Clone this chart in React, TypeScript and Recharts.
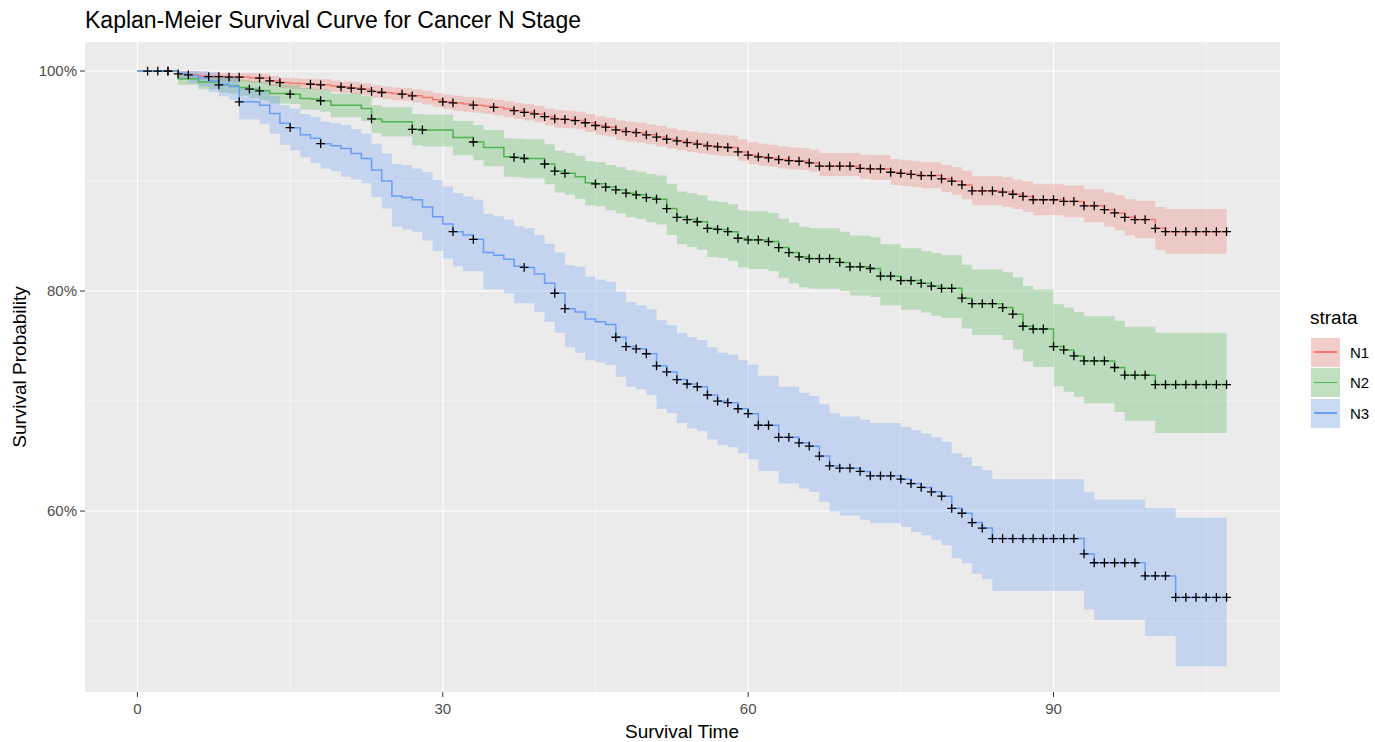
import React from "react";
import { ComposedChart, Area, Line, Scatter, XAxis, YAxis, CartesianGrid } from "recharts";

// Kaplan-Meier estimates in percent, one value per month (index = month 0..107)
const n1Surv = [
  100, 100, 100, 100, 99.75, 99.65, 99.55, 99.5, 99.5, 99.45,
  99.45, 99.4, 99.35, 99.1, 98.95, 98.9, 98.85, 98.8, 98.75, 98.65,
  98.55, 98.45, 98.35, 98.15, 98.05, 97.95, 97.9, 97.75, 97.6, 97.4,
  97.2, 97.1, 97.0, 96.9, 96.8, 96.7, 96.55, 96.4, 96.25, 96.1,
  95.85, 95.65, 95.6, 95.5, 95.3, 95.05, 94.9, 94.65, 94.5, 94.4,
  94.2, 94.0, 93.8, 93.65, 93.5, 93.35, 93.2, 93.1, 93.05, 92.65,
  92.35, 92.2, 92.1, 91.95, 91.85, 91.8, 91.65, 91.35, 91.35, 91.35,
  91.35, 91.15, 91.1, 91.1, 90.8, 90.7, 90.6, 90.5, 90.5, 90.2,
  90.0, 89.65, 89.1, 89.1, 89.1, 89.0, 88.8, 88.6, 88.3, 88.3,
  88.3, 88.15, 88.15, 87.75, 87.75, 87.4, 87.1, 86.7, 86.5, 86.5,
  85.7, 85.4, 85.4, 85.4, 85.4, 85.4, 85.4, 85.4,
];
const n1Lower = [
  100, 100, 100, 100, 99.45, 99.3, 99.2, 99.1, 99.1, 99.05,
  99.05, 98.95, 98.9, 98.65, 98.45, 98.4, 98.35, 98.3, 98.25, 98.1,
  98.0, 97.9, 97.8, 97.55, 97.45, 97.35, 97.3, 97.15, 96.95, 96.75,
  96.55, 96.4, 96.3, 96.2, 96.1, 95.95, 95.8, 95.65, 95.5, 95.35,
  95.05, 94.85, 94.8, 94.7, 94.45, 94.2, 94.05, 93.75, 93.6, 93.5,
  93.35, 93.15, 92.95, 92.8, 92.65, 92.5, 92.4, 92.3, 92.25, 91.85,
  91.55, 91.4, 91.3, 91.15, 91.05, 91.0, 90.85, 90.45, 90.45, 90.45,
  90.45, 90.2, 90.1, 90.1, 89.65, 89.55, 89.45, 89.35, 89.35, 89.0,
  88.75, 88.35, 87.8, 87.8, 87.8, 87.65, 87.45, 87.2, 86.9, 86.9,
  86.9, 86.7, 86.7, 86.25, 86.25, 85.85, 85.5, 85.05, 84.8, 84.8,
  83.75, 83.4, 83.4, 83.4, 83.4, 83.4, 83.4, 83.4,
];
const n1Upper = [
  100, 100, 100, 100, 100, 100, 99.9, 99.85, 99.85, 99.8,
  99.8, 99.8, 99.75, 99.55, 99.4, 99.35, 99.3, 99.3, 99.25, 99.15,
  99.05, 99.0, 98.9, 98.7, 98.6, 98.5, 98.45, 98.35, 98.2, 98.0,
  97.85, 97.75, 97.65, 97.6, 97.5, 97.4, 97.25, 97.1, 97.0, 96.85,
  96.6, 96.45, 96.4, 96.3, 96.1, 95.9, 95.75, 95.5, 95.4, 95.3,
  95.15, 95.0, 94.8, 94.65, 94.5, 94.4, 94.3, 94.2, 94.15, 93.8,
  93.55, 93.4, 93.3, 93.15, 93.05, 93.0, 92.85, 92.55, 92.55, 92.55,
  92.55, 92.4, 92.35, 92.35, 92.0, 91.9, 91.8, 91.7, 91.7, 91.45,
  91.25, 90.95, 90.45, 90.45, 90.45, 90.35, 90.15, 90.0, 89.7, 89.7,
  89.7, 89.6, 89.6, 89.25, 89.25, 88.95, 88.7, 88.35, 88.2, 88.2,
  87.65, 87.45, 87.45, 87.45, 87.45, 87.45, 87.45, 87.45,
];

const n2Surv = [
  100, 100, 100, 100, 99.3, 99.3, 99.0, 99.0, 98.75, 98.65,
  98.5, 98.35, 98.2, 97.95, 97.95, 97.9, 97.5, 97.45, 97.3, 96.9,
  96.9, 96.9, 96.6, 95.65, 95.4, 95.4, 95.4, 94.7, 94.65, 94.65,
  94.65, 93.95, 93.95, 93.55, 93.05, 93.05, 92.2, 92.15, 92.05, 92.05,
  91.55, 90.9, 90.7, 90.4, 89.85, 89.75, 89.45, 89.2, 88.9, 88.75,
  88.5, 88.35, 87.5, 86.7, 86.5, 86.3, 85.7, 85.6, 85.4, 84.8,
  84.65, 84.65, 84.5, 83.95, 83.5, 83.1, 82.95, 82.95, 82.95, 82.6,
  82.2, 82.2, 82.05, 81.35, 81.35, 80.95, 80.95, 80.7, 80.45, 80.25,
  80.25, 79.35, 78.85, 78.85, 78.85, 78.5, 77.9, 76.8, 76.55, 76.55,
  74.95, 74.65, 74.1, 73.65, 73.65, 73.65, 73.05, 72.35, 72.35, 72.35,
  71.5, 71.5, 71.5, 71.5, 71.5, 71.5, 71.5, 71.5,
];
const n2Lower = [
  100, 100, 100, 100, 98.75, 98.75, 98.35, 98.35, 98.05, 97.95,
  97.75, 97.55, 97.35, 97.05, 97.05, 97.0, 96.5, 96.45, 96.3, 95.8,
  95.8, 95.8, 95.45, 94.35, 94.05, 94.05, 94.05, 93.25, 93.15, 93.15,
  93.15, 92.35, 92.35, 91.9, 91.35, 91.35, 90.4, 90.35, 90.25, 90.25,
  89.7, 88.95, 88.75, 88.4, 87.8, 87.7, 87.35, 87.05, 86.7, 86.55,
  86.25, 86.05, 85.1, 84.25, 84.0, 83.75, 83.1, 83.0, 82.75, 82.15,
  82.0, 82.0, 81.8, 81.2, 80.7, 80.35, 80.2, 80.2, 80.2, 80.0,
  79.6, 79.6, 79.45, 78.7, 78.7, 78.3, 78.3, 78.05, 77.75, 77.55,
  77.55, 76.6, 76.0, 76.0, 76.0, 75.55, 74.7, 73.6, 73.1, 73.1,
  71.35, 70.85, 70.4, 69.8, 69.8, 69.8, 69.0, 68.2, 68.2, 68.2,
  67.1, 67.1, 67.1, 67.1, 67.1, 67.1, 67.1, 67.1,
];
const n2Upper = [
  100, 100, 100, 100, 99.85, 99.85, 99.6, 99.6, 99.4, 99.35,
  99.2, 99.1, 99.0, 98.8, 98.8, 98.75, 98.45, 98.4, 98.3, 97.95,
  97.95, 97.95, 97.7, 96.9, 96.7, 96.7, 96.7, 96.1, 96.05, 96.05,
  96.05, 95.45, 95.45, 95.1, 94.65, 94.65, 93.9, 93.85, 93.8, 93.8,
  93.35, 92.75, 92.55, 92.3, 91.8, 91.7, 91.45, 91.25, 91.0, 90.85,
  90.65, 90.5, 89.75, 89.05, 88.9, 88.7, 88.2, 88.1, 87.9, 87.35,
  87.25, 87.25, 87.1, 86.6, 86.2, 85.85, 85.7, 85.7, 85.7, 85.4,
  85.05, 85.05, 84.9, 84.25, 84.25, 83.9, 83.9, 83.65, 83.45, 83.25,
  83.25, 82.4, 81.95, 81.95, 81.95, 81.7, 81.25, 80.45, 80.15, 80.15,
  78.8, 78.5, 78.1, 77.7, 77.7, 77.7, 77.3, 76.75, 76.75, 76.75,
  76.2, 76.2, 76.2, 76.2, 76.2, 76.2, 76.2, 76.2,
];

const n3Surv = [
  100, 100, 100, 100, 99.8, 99.6, 99.4, 99.1, 98.8, 98.6,
  97.2, 97.2, 96.9, 96.15, 95.25, 94.85, 94.2, 93.9, 93.4, 93.2,
  92.95, 92.5, 92.05, 91.0, 90.0, 88.65, 88.5, 88.3, 87.65, 86.75,
  86.1, 85.4, 85.1, 84.7, 83.5, 83.25, 82.9, 82.25, 82.15, 81.55,
  80.7, 79.8, 78.4, 78.1, 77.45, 77.2, 76.95, 75.8, 74.95, 74.75,
  74.3, 73.2, 72.65, 71.95, 71.55, 71.3, 70.55, 70.0, 69.85, 69.3,
  68.85, 67.8, 67.8, 66.7, 66.7, 66.2, 65.9, 65.0, 64.1, 63.9,
  63.9, 63.6, 63.2, 63.2, 63.2, 62.9, 62.5, 62.15, 61.75, 61.35,
  60.25, 59.8, 58.95, 58.45, 57.5, 57.5, 57.5, 57.5, 57.5, 57.5,
  57.5, 57.5, 57.5, 56.1, 55.3, 55.3, 55.3, 55.3, 55.3, 54.1,
  54.1, 54.1, 52.15, 52.15, 52.15, 52.15, 52.15, 52.15,
];
const n3Lower = [
  100, 100, 100, 100, 99.2, 98.9, 98.6, 98.1, 97.7, 97.4,
  95.6, 95.6, 95.2, 94.3, 93.3, 92.8, 92.15, 91.65, 91.15, 90.9,
  90.4, 90.15, 89.8, 88.55, 87.5, 85.85, 85.6, 85.4, 84.6, 83.65,
  82.95, 82.25, 81.8, 81.8, 80.15, 80.15, 79.8, 78.9, 78.9, 78.1,
  77.2, 76.2, 74.9, 74.4, 73.7, 73.5, 73.3, 72.2, 71.3, 71.05,
  70.55, 69.3, 68.9, 68.0, 67.5, 67.3, 66.5, 66.0, 65.8, 65.25,
  64.7, 63.65, 63.65, 62.5, 62.5, 62.05, 61.75, 60.85, 59.95, 59.6,
  59.6, 59.2, 58.9, 58.9, 58.9, 58.55, 58.1, 57.8, 57.35, 56.9,
  55.7, 55.25, 54.3, 53.8, 52.75, 52.75, 52.75, 52.75, 52.75, 52.75,
  52.75, 52.75, 52.75, 51.05, 50.1, 50.1, 50.1, 50.1, 50.1, 48.65,
  48.65, 48.65, 45.9, 45.9, 45.9, 45.9, 45.9, 45.9,
];
const n3Upper = [
  100, 100, 100, 100, 100, 100, 100, 99.9, 99.6, 99.5,
  98.5, 98.5, 98.3, 97.7, 96.9, 96.6, 96.1, 95.85, 95.4, 95.25,
  95.1, 94.7, 94.3, 93.4, 92.5, 91.55, 91.45, 91.15, 90.8, 90.1,
  89.5, 88.9, 88.6, 88.3, 87.0, 86.8, 86.5, 85.9, 85.7, 85.1,
  84.3, 83.5, 82.35, 82.2, 81.3, 81.05, 80.85, 79.95, 79.0, 78.7,
  78.35, 77.35, 76.9, 76.2, 75.8, 75.55, 74.9, 74.4, 74.2, 73.7,
  73.3, 72.3, 72.3, 71.3, 71.3, 70.75, 70.45, 69.7, 68.9, 68.6,
  68.6, 68.3, 68.0, 68.0, 68.0, 67.65, 67.35, 67.05, 66.7, 66.3,
  65.25, 64.9, 64.1, 63.7, 62.9, 62.9, 62.9, 62.9, 62.9, 62.9,
  62.9, 62.9, 62.9, 61.7, 61.05, 61.05, 61.05, 61.05, 61.05, 60.25,
  60.25, 60.25, 59.4, 59.4, 59.4, 59.4, 59.4, 59.4,
];

// months with censored subjects ("+" marks)
const n1Censor = [
  1, 2, 3, 4, 5, 7, 8, 9, 10, 12, 13, 14, 17, 18, 20, 21, 22, 23, 24, 26, 27, 30, 31, 33, 35,
  37, 38, 39, 40, 41, 42, 43, 44, 45, 46, 47, 48, 49, 50, 51, 52, 53, 54, 55, 56, 57, 58, 59,
  60, 61, 62, 63, 64, 65, 66, 67, 68, 69, 70, 71, 72, 73, 74, 75, 76, 77, 78, 79, 80, 81, 82,
  83, 84, 85, 86, 87, 88, 89, 90, 91, 92, 93, 94, 95, 96, 97, 98, 99, 100, 101, 102, 103, 104,
  105, 106, 107,
];
const n2Censor = [
  8, 11, 12, 15, 18, 23, 27, 28, 33, 37, 38, 40, 41, 42, 45, 46, 47, 48, 49, 50, 51, 52, 53,
  54, 55, 56, 57, 58, 59, 60, 61, 62, 63, 64, 65, 66, 67, 68, 69, 70, 71, 72, 73, 74, 75, 76,
  77, 78, 79, 80, 81, 82, 83, 84, 85, 86, 87, 88, 89, 90, 91, 92, 93, 94, 95, 96, 97, 98, 99,
  100, 101, 102, 103, 104, 105, 106, 107,
];
const n3Censor = [
  3, 10, 15, 18, 31, 33, 38, 41, 42, 47, 48, 49, 50, 51, 52, 53, 54, 55, 56, 57, 58, 59, 60,
  61, 62, 63, 64, 65, 66, 67, 68, 69, 70, 71, 72, 73, 74, 75, 76, 77, 78, 79, 80, 81, 82, 83,
  84, 85, 86, 87, 88, 89, 90, 91, 92, 93, 94, 95, 96, 97, 98, 99, 100, 101, 102, 103, 104, 105,
  106, 107,
];

const xMajor = [0, 30, 60, 90];
const xMinor = [15, 45, 75, 105];
const yMajor = [60, 80, 100];
const yMinor = [50, 70, 90];

const strata = [
  { key: "n1", name: "N1", color: "#F37A70", surv: n1Surv, lower: n1Lower, upper: n1Upper, censor: n1Censor },
  { key: "n2", name: "N2", color: "#50B450", surv: n2Surv, lower: n2Lower, upper: n2Upper, censor: n2Censor },
  { key: "n3", name: "N3", color: "#6A9DF5", surv: n3Surv, lower: n3Lower, upper: n3Upper, censor: n3Censor },
];

const chartData = n1Surv.map((_, t) => {
  const row: Record<string, any> = { t };
  strata.forEach((s) => {
    row[s.key] = s.surv[t];
    row[`${s.key}Band`] = [s.lower[t], s.upper[t]];
  });
  return row;
});

const FONT = '"Liberation Sans", Arial, Helvetica, sans-serif';

// ggplot-style "+" censor mark
const CensorMark = (props: any) => {
  const { cx, cy } = props;
  if (cx == null || cy == null) return <g />;
  const r = 4.4;
  return (
    <path
      d={`M${cx - r},${cy}H${cx + r}M${cx},${cy - r}V${cy + r}`}
      stroke="#000000"
      strokeWidth={1.3}
      fill="none"
    />
  );
};

export default function App() {
  return (
    <div
      style={{
        position: "absolute",
        left: 0,
        top: 0,
        width: 1375,
        height: 742,
        background: "#FFFFFF",
        fontFamily: FONT,
        overflow: "hidden",
      }}
    >
      <div style={{ position: "absolute", left: 85, top: 7, fontSize: 23, lineHeight: "26px", color: "#000" }}>
        Kaplan-Meier Survival Curve for Cancer N Stage
      </div>

      <ComposedChart
        width={1375}
        height={742}
        data={chartData}
        margin={{ top: 42, right: 95, bottom: 0, left: 0 }}
      >
        <CartesianGrid
          fill="#EBEBEB"
          fillOpacity={1}
          stroke="#FFFFFF"
          strokeWidth={0.55}
          horizontalValues={yMinor}
          verticalValues={xMinor}
        />
        <CartesianGrid stroke="#FFFFFF" strokeWidth={1.1} horizontalValues={yMajor} verticalValues={xMajor} />
        <XAxis
          dataKey="t"
          type="number"
          domain={[-5.15, 112.25]}
          allowDataOverflow
          ticks={xMajor}
          height={50}
          axisLine={false}
          tickSize={5}
          tickMargin={6}
          tickLine={{ stroke: "#333333", strokeWidth: 1 }}
          tick={{ fill: "#4D4D4D", fontSize: 15, fontFamily: FONT }}
        />
        <YAxis
          type="number"
          domain={[43.55, 102.64]}
          allowDataOverflow
          ticks={yMajor}
          tickFormatter={(v: number) => `${v}%`}
          width={85}
          axisLine={false}
          tickSize={5}
          tickMargin={3}
          tickLine={{ stroke: "#333333", strokeWidth: 1 }}
          tick={{ fill: "#4D4D4D", fontSize: 15, fontFamily: FONT }}
        />

        {/* confidence ribbons */}
        {strata.map((s) => (
          <Area
            key={`${s.key}-band`}
            type="stepAfter"
            dataKey={`${s.key}Band`}
            stroke="none"
            fill={s.color}
            fillOpacity={0.3}
            dot={false}
            activeDot={false}
            isAnimationActive={false}
          />
        ))}

        {/* survival step curves */}
        {strata.map((s) => (
          <Line
            key={`${s.key}-line`}
            type="stepAfter"
            dataKey={s.key}
            stroke={s.color}
            strokeWidth={1.5}
            dot={false}
            activeDot={false}
            isAnimationActive={false}
          />
        ))}

        {/* censoring marks */}
        {strata.map((s) => (
          <Scatter
            key={`${s.key}-censor`}
            data={s.censor.map((t) => ({ t, s: s.surv[t] }))}
            dataKey="s"
            shape={CensorMark}
            isAnimationActive={false}
          />
        ))}
      </ComposedChart>

      {/* axis titles */}
      <div
        style={{
          position: "absolute",
          left: 682,
          top: 732,
          transform: "translate(-50%, -50%)",
          fontSize: 19,
          color: "#000",
          whiteSpace: "nowrap",
        }}
      >
        Survival Time
      </div>
      <div
        style={{
          position: "absolute",
          left: 20,
          top: 367,
          transform: "translate(-50%, -50%) rotate(-90deg)",
          fontSize: 19,
          color: "#000",
          whiteSpace: "nowrap",
        }}
      >
        Survival Probability
      </div>

      {/* legend */}
      <div style={{ position: "absolute", left: 1310, top: 308, fontSize: 19, lineHeight: "20px", color: "#000" }}>
        strata
      </div>
      {strata.map((s, i) => (
        <div key={s.key}>
          <div
            style={{
              position: "absolute",
              left: 1310.5,
              top: 337.5 + i * 30.6,
              width: 29,
              height: 29,
              background: "#F2F2F2",
            }}
          >
            <div style={{ position: "absolute", inset: 0, background: s.color, opacity: 0.3 }} />
            <div
              style={{
                position: "absolute",
                left: 3,
                right: 3,
                top: 13.75,
                height: 1.5,
                background: s.color,
              }}
            />
          </div>
          <div
            style={{
              position: "absolute",
              left: 1350,
              top: 337.5 + i * 30.6,
              height: 29,
              lineHeight: "29px",
              fontSize: 15,
              color: "#000",
            }}
          >
            {s.name}
          </div>
        </div>
      ))}
    </div>
  );
}
